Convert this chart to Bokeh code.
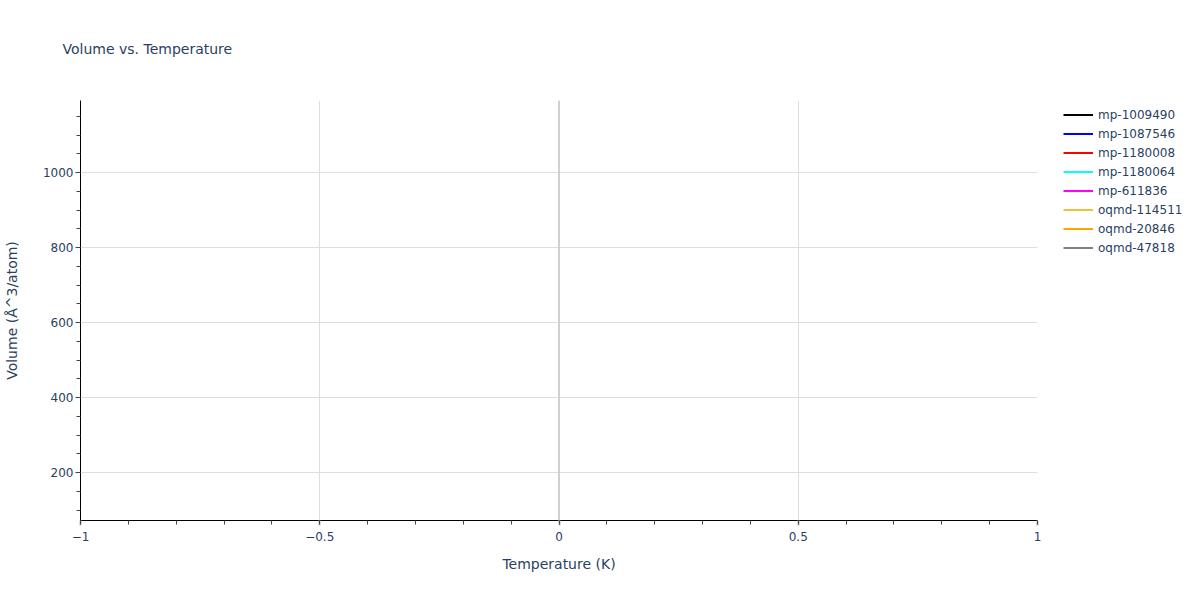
from bokeh.plotting import figure
from bokeh.layouts import row
from bokeh.models import (Range1d, FixedTicker, Span, Legend, LegendItem)
from bokeh.embed import file_html
from bokeh.resources import INLINE

# ---- data (each series is a single point at T = 0 K, so the lines are invisible) ----
series_names = ["mp-1009490", "mp-1087546", "mp-1180008", "mp-1180064",
                "mp-611836", "oqmd-114511", "oqmd-20846", "oqmd-47818"]
series_colors = ["black", "blue", "red", "cyan", "magenta", "#EEC23A", "orange", "gray"]
temperatures = [0.0]
volumes = [1192.0, 72.0, 245.0, 410.0, 980.0, 133.0, 620.0, 151.0]

x_major = [-1, -0.5, 0, 0.5, 1]
x_minor = [round(-1 + 0.1 * i, 1) for i in range(21)]
y_major = [200, 400, 600, 800, 1000]
y_minor = list(range(100, 1200, 50))
x_labels = {-1: "\u22121", -0.5: "\u22120.5", 0: "0", 0.5: "0.5", 1: "1"}

FONT = "DejaVu Sans"
TXT = "#2a3f5f"

p = figure(width=1060, height=600, output_backend="svg", toolbar_location=None,
           x_range=Range1d(-1, 1), y_range=Range1d(min(volumes), max(volumes)),
           min_border_left=79, min_border_right=23, min_border_top=100,
           min_border_bottom=80)
p.outline_line_color = None
p.background_fill_color = "white"

# title (an empty second line lifts the text towards the top of the page)
p.title.text = "Volume vs. Temperature\n "
p.title.text_font = FONT
p.title.text_font_size = "14px"
p.title.text_font_style = "normal"
p.title.text_color = TXT
p.title.align = "left"
p.title.offset = -18
p.title.standoff = 56

# axes
for ax in (p.xaxis[0], p.yaxis[0]):
    ax.axis_line_color = "black"
    ax.axis_line_width = 1
    ax.major_label_text_font = FONT
    ax.major_label_text_font_size = "12px"
    ax.major_label_text_color = TXT
    ax.axis_label_text_font = FONT
    ax.axis_label_text_font_size = "14px"
    ax.axis_label_text_font_style = "normal"
    ax.axis_label_text_color = TXT
    ax.major_tick_in = 0
    ax.minor_tick_in = 0
    ax.minor_tick_out = 4
    ax.major_tick_out = 5
    ax.minor_tick_line_color = "#444444"

p.xaxis[0].ticker = FixedTicker(ticks=x_major, minor_ticks=x_minor)
p.xaxis[0].major_label_overrides = x_labels
p.xaxis[0].axis_label = "Temperature (K)"
p.xaxis[0].major_tick_line_color = "#bbbbbb"
p.xaxis[0].major_tick_line_width = 2
p.xaxis[0].major_label_standoff = 6
p.xaxis[0].axis_label_standoff = 12

p.yaxis[0].ticker = FixedTicker(ticks=y_major, minor_ticks=y_minor)
p.yaxis[0].axis_label = "Volume (Å^3/atom)"
p.yaxis[0].major_tick_line_color = "#444444"
p.yaxis[0].major_label_standoff = 2
p.yaxis[0].axis_label_standoff = 20

# grids
p.xgrid[0].ticker = FixedTicker(ticks=[-0.5, 0.5])
p.xgrid[0].grid_line_color = "#dedede"
p.ygrid[0].ticker = FixedTicker(ticks=y_major)
p.ygrid[0].grid_line_color = "#dedede"

# zero line
p.add_layout(Span(location=0, dimension="height", line_color="#d0d0d0", line_width=2))

# series on the main plot
for name, color, vol in zip(series_names, series_colors, volumes):
    p.line(x=temperatures, y=[vol], line_color=color, line_width=2)

# legend panel (a bare figure holding the same series so the legend can sit outside the plot area)
lf = figure(width=140, height=600, output_backend="svg", toolbar_location=None,
            x_range=Range1d(-1, 1), y_range=Range1d(min(volumes), max(volumes)),
            min_border_left=0, min_border_right=0, min_border_top=100,
            min_border_bottom=80)
lf.axis.visible = False
lf.grid.visible = False
lf.outline_line_color = None
lf.title.visible = False

items = []
for name, color, vol in zip(series_names, series_colors, volumes):
    r = lf.line(x=temperatures, y=[vol], line_color=color, line_width=2)
    items.append(LegendItem(label=name, renderers=[r]))

legend = Legend(items=items, location=(3, 263),
                orientation="vertical", border_line_color=None,
                background_fill_alpha=0, padding=0, margin=0, spacing=0,
                glyph_width=30, glyph_height=19, label_height=19,
                label_standoff=5, label_text_font=FONT,
                label_text_font_size="12px", label_text_color=TXT)
lf.add_layout(legend, "center")

layout = row(p, lf, spacing=0)
open("out.html", "w").write(file_html(layout, INLINE))
